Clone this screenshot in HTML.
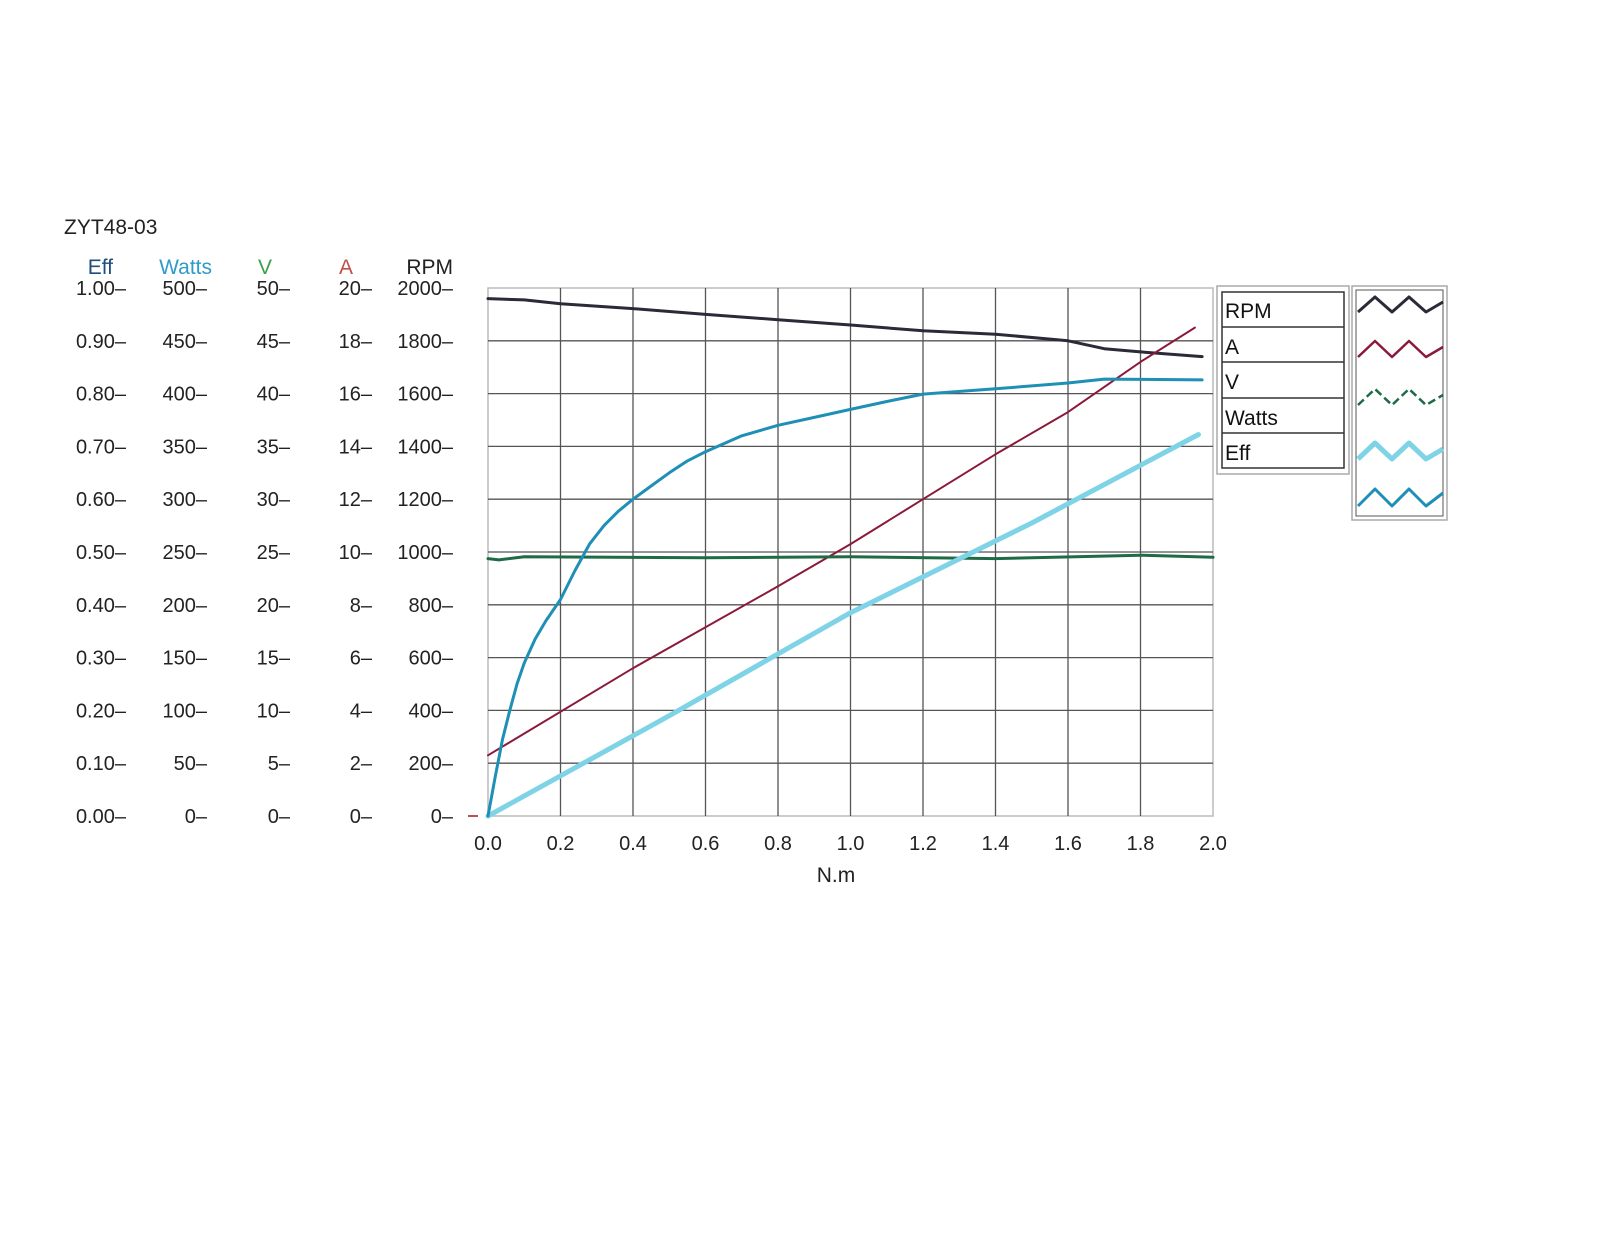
<!DOCTYPE html>
<html><head><meta charset="utf-8"><style>
html,body{margin:0;padding:0;background:#fff;}
svg{display:block;font-family:"Liberation Sans",sans-serif;}
</style></head><body>
<svg width="1600" height="1237" viewBox="0 0 1600 1237" xmlns="http://www.w3.org/2000/svg">
<rect width="1600" height="1237" fill="#fff"/>
<text x="64" y="234" font-size="21" fill="#222">ZYT48-03</text>
<g font-size="21" text-anchor="end">
<text x="113" y="274" fill="#1f4e7a">Eff</text>
<text x="212" y="274" fill="#2e9bc9">Watts</text>
<text x="272" y="274" fill="#3aa04a">V</text>
<text x="353" y="274" fill="#c0504d">A</text>
<text x="453" y="274" fill="#222">RPM</text>
</g>
<g id="yl" font-size="20" fill="#222" text-anchor="end"></g>
<rect x="488" y="288" width="725" height="528" fill="none" stroke="#bbb" stroke-width="1.5"/>
<g stroke="#555" stroke-width="1.3" id="grid"></g>
<g id="xl" font-size="20" fill="#222" text-anchor="middle"></g>
<text x="836" y="882" font-size="21" fill="#222" text-anchor="middle">N.m</text>
<g fill="none" stroke-linejoin="round" stroke-linecap="round">
<polyline id="rpm" stroke="#2a2a38" stroke-width="3"/>
<polyline id="amp" stroke="#8b1a3a" stroke-width="2"/>
<polyline id="volt" stroke="#1e6b45" stroke-width="3"/>
<polyline id="eff" stroke="#7fd3e6" stroke-width="5"/>
<polyline id="watt" stroke="#1e8fb5" stroke-width="3"/>
</g>
<line x1="468" y1="816" x2="478" y2="816" stroke="#c0504d" stroke-width="2"/>
<rect x="1217" y="286" width="132" height="188" fill="#fff" stroke="#aaa" stroke-width="1.5"/>
<g stroke="#333" stroke-width="1.5" fill="none">
<rect x="1222" y="292" width="122" height="176"/>
<line x1="1222" y1="327" x2="1344" y2="327"/>
<line x1="1222" y1="362" x2="1344" y2="362"/>
<line x1="1222" y1="398" x2="1344" y2="398"/>
<line x1="1222" y1="433" x2="1344" y2="433"/>
</g>
<g font-size="21" fill="#111">
<text x="1225" y="318">RPM</text>
<text x="1225" y="354">A</text>
<text x="1225" y="389">V</text>
<text x="1225" y="425">Watts</text>
<text x="1225" y="460">Eff</text>
</g>
<rect x="1352" y="286" width="95" height="234" fill="#fff" stroke="#aaa" stroke-width="1.5"/>
<rect x="1356" y="290" width="87" height="226" fill="none" stroke="#555" stroke-width="1"/>
<g fill="none" stroke-linejoin="round">
<polyline points="1358,312 1375,297 1392,312 1409,297 1426,312 1443,302" stroke="#2a2a38" stroke-width="3"/>
<polyline points="1358,357 1375,341 1392,357 1409,341 1426,357 1443,347" stroke="#8b1a3a" stroke-width="2.5"/>
<polyline points="1358,405 1375,389 1392,405 1409,389 1426,405 1443,395" stroke="#1e6b45" stroke-width="2.5" stroke-dasharray="8,4"/>
<polyline points="1358,459 1375,443 1392,459 1409,443 1426,459 1443,449" stroke="#7fd3e6" stroke-width="5"/>
<polyline points="1358,506 1375,489 1392,506 1409,489 1426,506 1443,493" stroke="#1e8fb5" stroke-width="3"/>
</g>
<script>
(function(){
var ns="http://www.w3.org/2000/svg";
function el(p,t,a,txt){var e=document.createElementNS(ns,t);for(var k in a)e.setAttribute(k,a[k]);if(txt!==undefined)e.textContent=txt;document.getElementById(p).appendChild(e);}
var PT=288,PB=816,PL=488,PR=1213;
function Y(r){return PB-r*(PB-PT)/2000;}
function X(t){return PL+t*(PR-PL)/2;}
for(var i=0;i<=10;i++){
 var y=Y(i*200);
 if(i>0&&i<10)el("grid","line",{x1:PL,y1:y,x2:PR,y2:y});
 var cols=[[126,(i/10).toFixed(2)],[207,String(i*50)],[290,String(i*5)],[372,String(i*2)],[453,String(i*200)]];
 cols.forEach(function(c){el("yl","text",{x:c[0],y:y+7},c[1]+"–");});
 var x=X(i*0.2);
 if(i>0&&i<10)el("grid","line",{x1:x,y1:PT,x2:x,y2:PB});
 el("xl","text",{x:x,y:850},(i*0.2).toFixed(1));
}
function pl(id,pts){document.getElementById(id).setAttribute("points",pts.map(function(p){return X(p[0]).toFixed(1)+","+Y(p[1]).toFixed(1)}).join(" "));}
pl("rpm",[[0,1960],[0.1,1955],[0.2,1940],[0.4,1922],[0.6,1900],[0.8,1880],[1.0,1860],[1.2,1838],[1.4,1825],[1.6,1800],[1.7,1770],[1.8,1758],[1.97,1740]]);
pl("amp",[[0,230],[0.4,560],[0.8,870],[1.0,1030],[1.2,1200],[1.4,1370],[1.6,1530],[1.8,1720],[1.95,1850]]);
pl("volt",[[0,975],[0.03,970],[0.1,982],[0.6,978],[1.0,982],[1.4,975],[1.8,988],[2.0,980]]);
pl("eff",[[0,0],[0.5,380],[1.0,770],[1.5,1110],[1.96,1445]]);
pl("watt",[[0,0],[0.02,150],[0.04,290],[0.06,400],[0.08,500],[0.1,580],[0.13,670],[0.16,740],[0.2,820],[0.24,930],[0.28,1030],[0.32,1100],[0.36,1155],[0.4,1200],[0.45,1250],[0.5,1300],[0.55,1345],[0.6,1380],[0.7,1440],[0.8,1480],[0.9,1510],[1.0,1540],[1.1,1570],[1.2,1598],[1.4,1618],[1.6,1640],[1.7,1655],[1.97,1652]]);
})();
</script>
</svg>
</body></html>
